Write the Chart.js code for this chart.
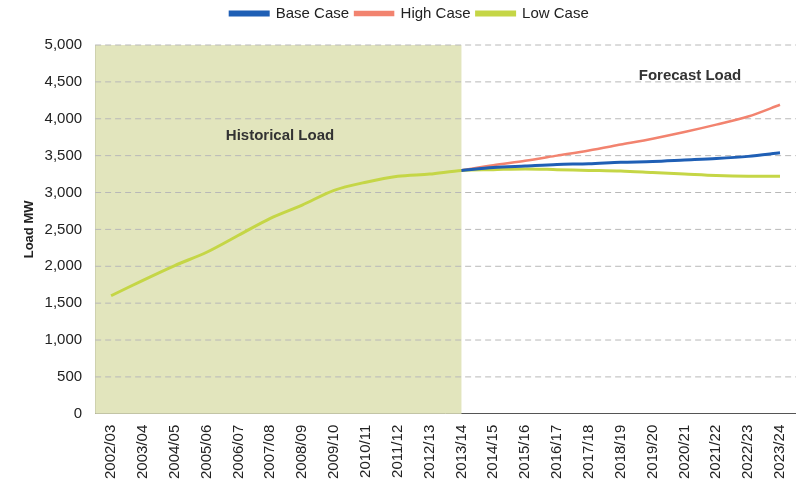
<!DOCTYPE html>
<html><head><meta charset="utf-8">
<script src="https://cdn.jsdelivr.net/npm/chart.js@4"></script>
<style>body{margin:0;background:#fff}#w{width:801px;height:501px}</style>
</head><body><div id="w"><canvas id="c"></canvas></div>
<script>
const categories=["2002/03","2003/04","2004/05","2005/06","2006/07","2007/08","2008/09","2009/10","2010/11","2011/12","2012/13","2013/14","2014/15","2015/16","2016/17","2017/18","2018/19","2019/20","2020/21","2021/22","2022/23","2023/24"];
const N=null;
const baseCase=[N,N,N,N,N,N,N,N,N,N,N,3300,3340,3360,3380,3390,3410,3420,3440,3460,3490,3540];
const highCase=[N,N,N,N,N,N,N,N,N,N,N,3300,3370,3430,3500,3570,3650,3730,3820,3920,4030,4190];
const lowCase=[1600,1810,2010,2190,2420,2650,2830,3030,3140,3220,3250,3300,3310,3320,3310,3300,3290,3270,3250,3230,3220,3220];
const histEnd="2013/14";
const legendGap={id:'legendGap',beforeInit(ch){const f=ch.legend.fit;ch.legend.fit=function(){f.bind(ch.legend)();this.height+=14;};}};
const bg={id:'bg',beforeDatasetsDraw(ch){const {ctx,chartArea:a,scales:{x,y}}=ch;const xe=x.getPixelForValue(categories.indexOf(histEnd));
ctx.save();ctx.fillStyle='#e2e5bd';ctx.fillRect(a.left,a.top,xe-a.left,a.bottom-a.top);
ctx.strokeStyle='#b8b8b8';ctx.setLineDash([6,4]);ctx.lineWidth=1;
y.ticks.forEach(t=>{const py=y.getPixelForValue(t.value);if(t.value>0){ctx.beginPath();ctx.moveTo(a.left,py);ctx.lineTo(a.right,py);ctx.stroke();}});
ctx.restore();},
afterDatasetsDraw(ch){const {ctx}=ch;ctx.save();ctx.fillStyle='#333';ctx.font='bold 15px "Liberation Sans", Arial';ctx.textAlign='center';
ctx.fillText('Historical Load',280,136);ctx.fillText('Forecast Load',690,76);ctx.restore();}};
new Chart(document.getElementById('c'),{type:'line',data:{labels:categories,datasets:[
{label:'Base Case',data:baseCase,borderColor:'#1f5fb5',backgroundColor:'#1f5fb5',borderWidth:3,pointRadius:0,tension:0.3},
{label:'High Case',data:highCase,borderColor:'#f2836f',backgroundColor:'#f2836f',borderWidth:2.5,pointRadius:0,tension:0.3},
{label:'Low Case',data:lowCase,borderColor:'#c5d646',backgroundColor:'#c5d646',borderWidth:3,pointRadius:0,tension:0.3}]},
plugins:[legendGap,bg],
options:{responsive:true,maintainAspectRatio:false,animation:false,
layout:{padding:{left:18,right:0,top:0,bottom:19}},
plugins:{legend:{position:'top',labels:{boxWidth:38,boxHeight:3,padding:6,color:'#222',font:{size:15,family:'"Liberation Sans", Arial'}}},tooltip:{enabled:false}},
scales:{x:{offset:true,grid:{display:false},border:{color:'#555'},ticks:{minRotation:90,maxRotation:90,color:'#222',font:{size:15,family:'"Liberation Sans", Arial'}}},
y:{min:0,max:5000,ticks:{stepSize:500,color:'#222',font:{size:15,family:'"Liberation Sans", Arial'},callback:v=>v.toLocaleString('en-US')},grid:{display:false,tickLength:10},border:{color:'#555'},
title:{display:true,text:'Load MW',color:'#222',font:{size:13,weight:'bold',family:'"Liberation Sans", Arial'}}}}}});
</script></body></html>
